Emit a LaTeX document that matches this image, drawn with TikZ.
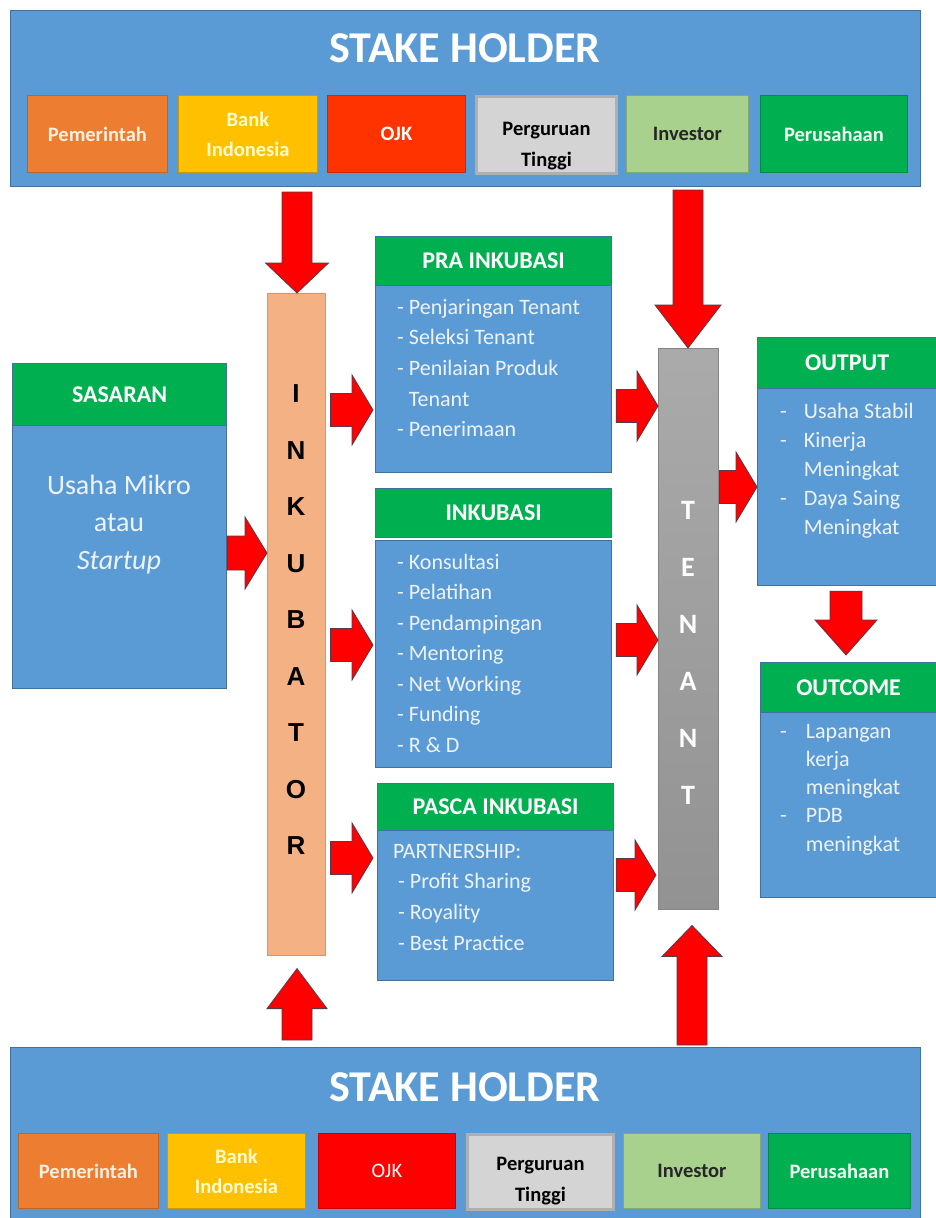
\documentclass[tikz,border=0pt]{standalone}
\usepackage{fontspec}
\setmainfont{Carlito}
\newfontfamily\arialfont{Liberation Sans}
\usetikzlibrary{calc}

\definecolor{boxblue}{HTML}{5B9BD5}
\definecolor{boxedge}{HTML}{41719C}
\definecolor{hdrgreen}{HTML}{00B050}
\definecolor{salmon}{HTML}{F4B183}
\definecolor{arrowred}{HTML}{FF0000}
\definecolor{arrowedge}{HTML}{5A3848}
\definecolor{bodytext}{HTML}{EEF3FA}
\definecolor{shorange}{HTML}{ED7D31}
\definecolor{shgold}{HTML}{FFC000}
\definecolor{shojk}{HTML}{FF3300}
\definecolor{shred}{HTML}{FF0000}
\definecolor{shgrey}{HTML}{D4D4D4}
\definecolor{shgreyedge}{HTML}{AFAFAF}
\definecolor{shlgreen}{HTML}{A9D18E}
\definecolor{tenantgrey}{HTML}{A6A6A6}

% box given by its corners: style, x1, y1, x2, y2, name
\newcommand\boxnode[6]{\node[#1, anchor=north west, inner sep=0pt,
  minimum width={#4pt-#2pt}, minimum height={#5pt-#3pt}] (#6) at (#2,#3)}

% horizontal block arrow: tail, tip, shaft half width, head half width, head length
\newcommand\arrowH[5]{\path[bigarrow] let \p1=(#1), \p2=(#2) in
  (\x1,{\y1+#3pt}) -- ({\x2-#5pt},{\y1+#3pt}) -- ({\x2-#5pt},{\y1+#4pt}) --
  (\x2,\y1) -- ({\x2-#5pt},{\y1-#4pt}) -- ({\x2-#5pt},{\y1-#3pt}) --
  (\x1,{\y1-#3pt}) -- cycle;}
% vertical block arrow: tail, tip, shaft half width, head half width, signed head length
\newcommand\arrowV[5]{\path[bigarrow] let \p1=(#1), \p2=(#2) in
  ({\x1-#3pt},\y1) -- ({\x1-#3pt},{\y2+#5pt}) -- ({\x1-#4pt},{\y2+#5pt}) --
  (\x1,\y2) -- ({\x1+#4pt},{\y2+#5pt}) -- ({\x1+#3pt},{\y2+#5pt}) --
  ({\x1+#3pt},\y1) -- cycle;}

\begin{document}
\begin{tikzpicture}[x=1pt, y=-1pt,
  bar/.style={draw=boxedge, line width=1.2pt, fill=boxblue},
  panel/.style={draw=boxedge, line width=1.2pt, fill=boxblue},
  hdr/.style={draw=boxedge, line width=1.2pt, fill=hdrgreen, text=white,
    font=\bfseries\fontsize{24}{28}\selectfont},
  title/.style={text=white, font=\bfseries\fontsize{44}{50}\selectfont, inner sep=0pt},
  sh/.style={draw=#1!80!black, line width=0.8pt, fill=#1, align=center,
    font=\bfseries\fontsize{20.5}{30}\selectfont},
  shtext/.style={align=center, inner sep=0pt, font=\bfseries\fontsize{20.5}{31}\selectfont},
  listtext/.style={text=bodytext, inner sep=0pt, anchor=north west},
  bigarrow/.style={fill=arrowred, draw=arrowedge, line width=0.8pt, line join=miter},
  ]
\useasboundingbox (0,0) rectangle (936,1218);
\clip (0,0) rectangle (936,1218);
\fill[white] (0,0) rectangle (936,1218);

% ---------- top stakeholder bar ----------
\boxnode{bar}{10}{10}{920}{186}{topbar}{};
\node[title] (toptitle) at (465,48) {STAKE HOLDER};
\boxnode{sh=shorange, text=orange!12}{27}{95}{167}{172}{tA}{Pemerintah};
\boxnode{sh=shgold, text=yellow!20}{178}{95}{317}{172}{tB}{Bank\\Indonesia};
\boxnode{sh=shojk, text=white}{327}{95}{465}{172}{tC}{OJK};
\boxnode{fill=shgrey, draw=shgreyedge, line width=3pt}{475}{95}{615}{172}{tD}{};
\begin{scope}
  \clip ($(tD.south west)+(2,-2)$) rectangle ($(tD.north east)+(-2,2)$);
  \node[shtext, text=black] (tDtext) at ($(tD.center)+(0,11)$) {Perguruan\\Tinggi};
\end{scope}
\boxnode{sh=shlgreen, text=black!85}{626}{95}{748}{172}{tE}{Investor};
\boxnode{sh=hdrgreen, text=white!95!green}{760}{95}{907}{172}{tF}{Perusahaan};

% ---------- bottom stakeholder bar ----------
\boxnode{bar}{10}{1047}{920}{1225}{botbar}{};
\node[title] (bottitle) at (465,1087) {STAKE HOLDER};
\boxnode{sh=shorange, text=orange!12}{18}{1133}{158}{1208}{bA}{Pemerintah};
\boxnode{sh=shgold, text=yellow!20}{167}{1133}{305}{1208}{bB}{Bank\\Indonesia};
\boxnode{sh=shred, text=white}{318}{1133}{455}{1208}{bC}{\mdseries OJK};
\boxnode{fill=shgrey, draw=shgreyedge, line width=3pt}{466}{1133}{612}{1208}{bD}{};
\begin{scope}
  \clip ($(bD.south west)+(2,-2)$) rectangle ($(bD.north east)+(-2,2)$);
  \node[shtext, text=black] (bDtext) at ($(bD.center)+(0,9)$) {Perguruan\\Tinggi};
\end{scope}
\boxnode{sh=shlgreen, text=black!85}{623}{1133}{760}{1208}{bE}{Investor};
\boxnode{sh=hdrgreen, text=white!95!green}{768}{1133}{910}{1208}{bF}{Perusahaan};

% ---------- sasaran ----------
\boxnode{hdr}{12}{363}{226}{425}{sashdr}{SASARAN};
\boxnode{panel}{12}{425}{226}{688}{sas}{};
\node[listtext, anchor=north, font=\fontsize{28}{37.5}\selectfont] (sastext) at (119,468)
  {\begin{tabular}{@{}c@{}}Usaha Mikro\\atau\\\itshape Startup\end{tabular}};

% ---------- inkubator bar ----------
\boxnode{fill=salmon, draw=salmon!85!black, line width=0.6pt}{267}{293}{325}{955}{ink}{};
\node[inner sep=0pt, anchor=north, font=\arialfont\bfseries\fontsize{26}{56.5}\selectfont]
  (inktext) at (296,363)
  {\begin{tabular}{@{}c@{}}I\\N\\K\\U\\B\\A\\T\\O\\R\end{tabular}};

% ---------- pra inkubasi ----------
\boxnode{hdr}{375}{236}{611}{285}{prahdr}{PRA INKUBASI};
\boxnode{panel}{375}{285}{611}{472}{pra}{};
\node[listtext, font=\fontsize{22}{30.7}\selectfont] (pratext) at (397,292.5)
  {\begin{tabular}{@{}l@{}}- Penjaringan Tenant\\- Seleksi Tenant\\- Penilaian Produk\\
   \phantom{- }Tenant\\- Penerimaan\end{tabular}};

% ---------- inkubasi ----------
\boxnode{hdr}{375}{488}{611}{537}{inkhdr}{INKUBASI};
\boxnode{panel}{375}{540}{611}{767}{inku}{};
\node[listtext, font=\fontsize{22}{30.5}\selectfont] (inkutext) at (397,547.5)
  {\begin{tabular}{@{}l@{}}- Konsultasi\\- Pelatihan\\- Pendampingan\\- Mentoring\\
   - Net Working\\- Funding\\- R \& D\end{tabular}};

% ---------- pasca inkubasi ----------
\boxnode{hdr}{377}{783}{613}{830}{pashdr}{PASCA INKUBASI};
\boxnode{panel}{377}{830}{613}{980}{pas}{};
\node[listtext, font=\fontsize{22}{30.7}\selectfont] (pastext) at (393,836.5)
  {\begin{tabular}{@{}l@{}}PARTNERSHIP:\\\ - Profit Sharing\\\ - Royality\\\ - Best Practice\end{tabular}};

% ---------- tenant bar ----------
\boxnode{top color=tenantgrey!95!white, bottom color=tenantgrey!88!black,
  draw=tenantgrey!80!black, line width=0.5pt}{658}{348}{718}{909}{ten}{};
\node[inner sep=0pt, anchor=north, text=white, font=\bfseries\fontsize{28}{57}\selectfont]
  (tentext) at (688,479)
  {\begin{tabular}{@{}c@{}}T\\E\\N\\A\\N\\T\end{tabular}};

% ---------- output / outcome ----------
\boxnode{hdr}{757}{337}{945}{388}{outhdr}{\hspace*{-9pt}OUTPUT};
\boxnode{panel}{757}{388}{945}{585}{out}{};
\node[listtext, font=\fontsize{22}{29}\selectfont] (outtext) at (780,397.7)
  {\begin{tabular}{@{}l@{\hspace{17pt}}l@{}}-&Usaha Stabil\\-&Kinerja\\&Meningkat\\
   -&Daya Saing\\&Meningkat\end{tabular}};
\boxnode{hdr}{760}{662}{945}{712}{ochdr}{\hspace*{-9pt}OUTCOME};
\boxnode{panel}{760}{712}{945}{897}{oc}{};
\node[listtext, font=\fontsize{22}{28.3}\selectfont] (octext) at (780,718)
  {\begin{tabular}{@{}l@{\hspace{19pt}}l@{}}-&Lapangan\\&kerja\\&meningkat\\
   -&PDB\\&meningkat\end{tabular}};

% ---------- block arrows ----------
\coordinate (a1t) at (297,192);
\arrowV{a1t}{ink.north -| a1t}{15}{31.5}{30}
\coordinate (a2t) at (688,190);
\arrowV{a2t}{ten.north}{15}{33}{43}
\arrowH{sas.east |- 0,553}{ink.west |- 0,553}{17}{36}{22}
\arrowH{$(ink.east |- 0,410)+(5,0)$}{$(pra.west |- 0,410)+(-2,0)$}{16.5}{35}{21}
\arrowH{$(ink.east |- 0,645)+(5,0)$}{$(inku.west |- 0,645)+(-2,0)$}{16.5}{35}{21}
\arrowH{$(ink.east |- 0,858)+(5,0)$}{$(pas.west |- 0,858)+(-4,0)$}{16.5}{35}{21}
\arrowH{$(pra.east |- 0,406)+(4,0)$}{ten.west |- 0,406}{16.5}{35}{21}
\arrowH{$(inku.east |- 0,640)+(4,0)$}{ten.west |- 0,640}{16.5}{35}{21}
\arrowH{$(pas.east |- 0,875)+(2,0)$}{$(ten.west |- 0,875)+(-2,0)$}{16.5}{35}{21}
\arrowH{$(ten.east |- 0,487)+(1,0)$}{out.west |- 0,487}{16.5}{35}{21}
\arrowV{$(out.south -| 846,0)+(0,5)$}{$(ochdr.north -| 846,0)+(0,-7)$}{16}{31}{35}
\coordinate (a3t) at (297,1040);
\arrowV{a3t}{$(ink.south -| a3t)+(0,13)$}{15}{30}{-40}
\coordinate (a4t) at (692,1045);
\arrowV{a4t}{$(ten.south -| a4t)+(0,16)$}{15}{30}{-31}
\end{tikzpicture}
\end{document}
